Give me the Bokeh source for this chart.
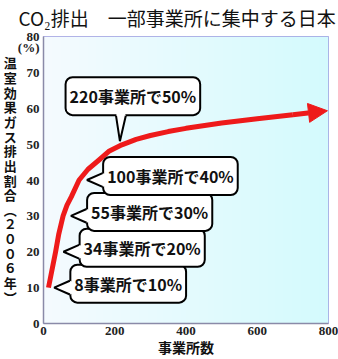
import numpy as np
from bokeh.plotting import figure
from bokeh.models import Label, Arrow, NormalHead, Range1d, FixedTicker
from bokeh.embed import file_html
from bokeh.resources import INLINE

# ---------------- data ----------------
title_text = "CO₂排出　一部事業所に集中する日本"
x_label = "事業所数"
y_label_chars = ["温", "室", "効", "果", "ガ", "ス", "排", "出", "割", "合",
                 "︵", "２", "０", "０", "６", "年", "︶"]
y_unit = "(%)"
y_unit_pos = 77

sites = [8, 34, 55, 100, 220]          # number of facilities
shares = [10, 20, 30, 40, 50]          # share of emissions (%)

curve_x = [14, 20, 27, 34, 43, 55, 66, 78, 100, 125, 155, 185, 220, 260, 300,
           350, 400, 500, 600, 700, 797]
curve_y = [10, 13, 16.5, 20, 25, 30, 33, 35.3, 40, 43, 45.5, 48.1, 49.8, 51.3, 52.4,
           53.5, 54.4, 55.9, 57.1, 58.2, 59.3]

x_ticks = [0, 200, 400, 600, 800]
y_ticks = [0, 10, 20, 30, 40, 50, 60, 70, 80]

# ---------------- layout ----------------
W, H = 338, 359
FL, FT, FW, FH = 37, 33, 291, 293
FB = FT + FH
X0, X1 = 0, 800
Y0, Y1 = 0, 80
kx = FW / (X1 - X0)
ky = FH / (Y1 - Y0)


def dx(px):
    return X0 + (px - FL) / kx


def dy(py):
    return Y0 + (FB - py) / ky


def spx(x):
    return FL + (x - X0) * kx


def spy(y):
    return FB - (y - Y0) * ky


FONT = "Noto Sans CJK JP"

p = figure(width=W, height=H, x_range=Range1d(X0, X1), y_range=Range1d(Y0, Y1),
           output_backend="svg", toolbar_location=None,
           min_border_left=FL, min_border_right=W - FL - FW,
           min_border_top=FT, min_border_bottom=H - FB)
p.background_fill_color = "white"
p.border_fill_color = "white"
p.outline_line_color = "#9c9ce0"

# title
p.title.text = title_text
p.title.text_font = FONT
p.title.text_font_size = "19px"
p.title.text_font_style = "normal"
p.title.text_color = "#111111"
p.title.align = "left"
p.title.offset = -25
p.title.vertical_align = "top"
p.title.standoff = 7

# background gradient (left light lavender-white -> right light cyan)
N = 128
img = np.empty((1, N), dtype=np.uint32)
view = img.view(dtype=np.uint8).reshape((1, N, 4))
c0 = np.array([245, 250, 255])
c1 = np.array([212, 251, 253])
for i in range(N):
    t = i / (N - 1)
    c = c0 * (1 - t) + c1 * t
    view[0, i, 0:3] = c.astype(np.uint8)
    view[0, i, 3] = 255
p.image_rgba(image=[img], x=X0, y=Y0, dw=X1 - X0, dh=Y1 - Y0)

# grid / axes
p.xaxis.ticker = FixedTicker(ticks=x_ticks)
p.yaxis.ticker = FixedTicker(ticks=y_ticks + [y_unit_pos])
p.yaxis.major_label_overrides = {y_unit_pos: y_unit}
p.xgrid.ticker = FixedTicker(ticks=x_ticks)
p.ygrid.ticker = FixedTicker(ticks=y_ticks)
p.grid.grid_line_color = "#a4a4ec"
p.grid.grid_line_width = 1
for ax in (p.xaxis, p.yaxis):
    ax.axis_line_color = "#8a8aa8"
    ax.axis_line_width = 1.5
    ax.major_tick_line_color = None
    ax.minor_tick_line_color = None
    ax.major_tick_out = 0
    ax.major_tick_in = 0
    ax.minor_tick_out = 0
    ax.minor_tick_in = 0
    ax.major_label_text_font = "Liberation Serif"
    ax.major_label_text_font_style = "bold"
    ax.major_label_text_font_size = "13px"
    ax.major_label_text_color = "#222222"
    ax.axis_label_text_font = FONT
    ax.axis_label_text_font_style = "bold"
    ax.axis_label_text_color = "#111111"
p.xaxis.major_label_standoff = 3
p.yaxis.major_label_standoff = 4
p.xaxis.axis_label = x_label
p.xaxis.axis_label_text_font_size = "14px"
p.xaxis.axis_label_standoff = -1
p.yaxis.axis_label = "\n".join(y_label_chars)
p.yaxis.axis_label_orientation = "horizontal"
p.yaxis.axis_label_text_font_size = "13px"
p.yaxis.axis_label_text_line_height = 0.77
p.yaxis.axis_label_standoff = -2

# curve
RED = "#ee1a1a"
p.line(curve_x[:-1], curve_y[:-1], line_color=RED, line_width=5, line_join="round")
p.add_layout(Arrow(x_start=curve_x[-2], y_start=curve_y[-2],
                   x_end=curve_x[-1], y_end=curve_y[-1],
                   line_color=RED, line_width=5,
                   end=NormalHead(size=19, fill_color=RED, line_color=RED, line_width=1)))

# callouts
ptr_xs, ptr_ys, edge_xs, edge_ys = [], [], [], []
for i, (s, v) in enumerate(zip(sites, shares)):
    txt = f"{s}事業所で{v}%"
    px, py = spx(s), spy(v)
    if i < len(sites) - 1:
        tip = px + 8
        bl = tip + 16
        xo, yo, anc = bl - px, 4, "center_left"
        ptr_xs.append([dx(bl + 3), dx(bl), dx(tip), dx(bl), dx(bl + 3)])
        ptr_ys.append([dy(py - 6), dy(py - 7), dy(py), dy(py + 7), dy(py + 6)])
        edge_xs.append([dx(bl), dx(tip), dx(bl)])
        edge_ys.append([dy(py - 7), dy(py), dy(py + 7)])
    else:
        bb = py - 29
        xo, yo, anc = 11, 29, "bottom_center"
        ptr_xs.append([dx(px - 5), dx(px - 6), dx(px - 2), dx(px + 4), dx(px + 3)])
        ptr_ys.append([dy(bb - 3), dy(bb), dy(py - 3), dy(bb), dy(bb - 3)])
        edge_xs.append([dx(px - 6), dx(px - 2), dx(px + 4)])
        edge_ys.append([dy(bb), dy(py - 3), dy(bb)])
    common = dict(x=s, y=v, anchor=anc, text=txt, text_font=FONT,
                  text_font_style="bold", text_font_size="16px",
                  padding=(4, 7), border_radius=7, border_line_width=2)
    p.add_layout(Label(x_offset=xo + 2, y_offset=yo - 2, background_fill_color="black",
                       border_line_color="black", text_alpha=0, **common))
    p.add_layout(Label(x_offset=xo, y_offset=yo, background_fill_color="white",
                       border_line_color="black", text_color="#111111", **common))

p.patches(ptr_xs, ptr_ys, fill_color="white", line_color=None, level="overlay")
p.multi_line(edge_xs, edge_ys, line_color="black", line_width=2, level="overlay")

open("out.html", "w").write(file_html(p, INLINE))
